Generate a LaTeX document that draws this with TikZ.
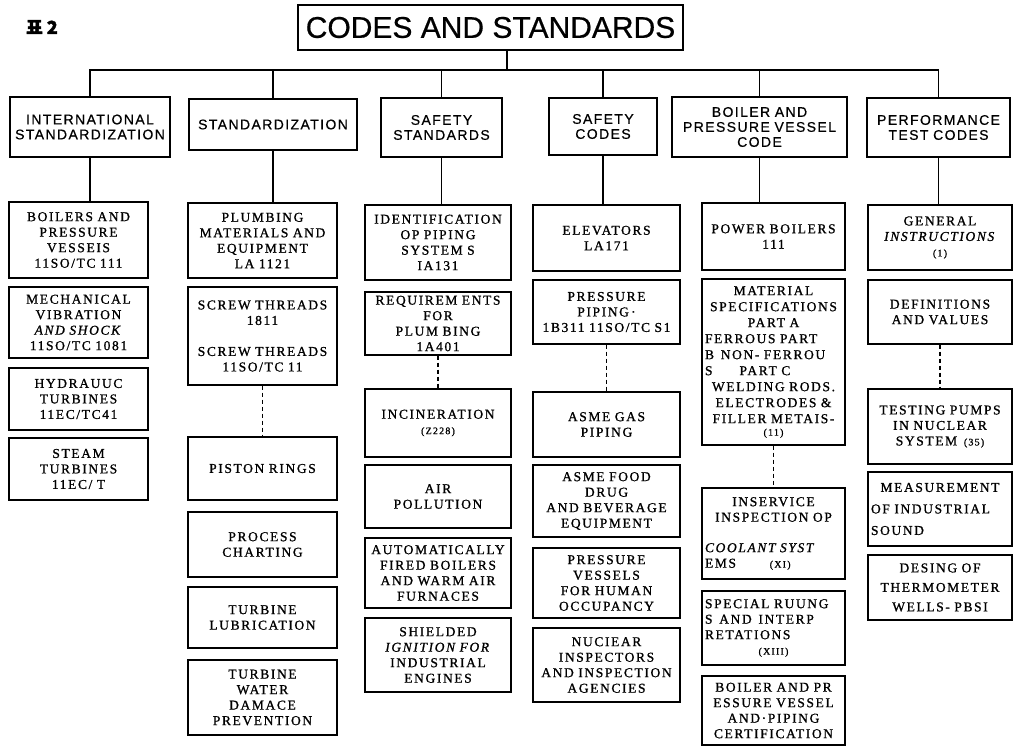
\documentclass[tikz,border=0pt]{standalone}
\usepackage{fontspec}
\newfontfamily\itemfont{Liberation Serif}[LetterSpace=12,WordSpace=1.5,FakeBold=1]
\newfontfamily\headfont{Liberation Sans}[LetterSpace=10,FakeBold=0.6]
\newfontfamily\titlefont{Liberation Sans}[FakeBold=0.6]
\newfontfamily\kofont{Noto Sans CJK KR}[FakeBold=2]
\newcommand{\sm}[1]{{\fontsize{10}{11}\selectfont #1}}
\newcommand{\lft}[1]{#1\hfill\null}
% box from (x1,y1) to (x2,y2), in pixels of the sheet
\newcommand{\cbox}[7][itembox]{%
  \pgfmathsetmacro{\boxw}{#5-#3}\pgfmathsetmacro{\boxh}{#6-#4}%
  \pgfmathsetmacro{\boxtw}{#5-#3-6}%
  \node[#1,minimum width=\boxw pt,minimum height=\boxh pt,text width=\boxtw pt]
    (#2) at ({(#3+#5)/2},{(#4+#6)/2}) {#7};}
\tikzset{
  itembox/.style={draw,line width=1.3pt,inner sep=3pt,align=center,
    font=\itemfont\fontsize{13.5}{15.5}\selectfont},
  headbox/.style={draw,line width=1.3pt,inner sep=3pt,align=center,
    font=\headfont\fontsize{14}{15}\selectfont},
  link/.style={line width=1.1pt},
  dlink/.style={line width=1.1pt,dash pattern=on 4pt off 3pt}
}
\begin{document}
\begin{tikzpicture}[x=1pt,y=-1pt]
\useasboundingbox (0,0) rectangle (1016,749);

\node[font=\kofont\bfseries\fontsize{18}{18}\selectfont] (tabno) at (42,27) {표 2};
\node[draw,line width=1.3pt,minimum width=385pt,minimum height=45pt,inner sep=0pt,
  font=\titlefont\fontsize{30}{32}\selectfont] (title) at (490.5,27.5) {CODES AND STANDARDS};

% heads
\cbox[headbox]{h1}{10}{97}{170}{157}{INTERNATIONAL\\STANDARDIZATION}
\cbox[headbox]{h2}{189}{99}{357}{150}{STANDARDIZATION}
\cbox[headbox]{h3}{381}{98}{502}{157}{SAFETY\\STANDARDS}
\cbox[headbox]{h4}{549}{98}{657}{155}{SAFETY\\CODES}
\cbox[headbox]{h5}{672}{97}{847}{157}{BOILER AND\\PRESSURE VESSEL\\CODE}
\cbox[headbox]{h6}{867}{98}{1010}{157}{PERFORMANCE\\TEST CODES}

% international standardization
\cbox{c11}{9}{202}{148}{278}{BOILERS AND\\PRESSURE\\VESSEIS\\11SO/TC 111}
\cbox{c12}{9}{287}{148}{358}{MECHANICAL\\VIBRATION\\\textit{AND SHOCK}\\11SO/TC 1081}
\cbox{c13}{9}{368}{148}{430}{HYDRAUUC\\TURBINES\\11EC/TC41}
\cbox{c14}{9}{438}{148}{500}{STEAM\\TURBINES\\11EC/ T}

% standardization
\cbox{c21}{188}{203}{337}{278}{PLUMBING\\MATERIALS AND\\EQUIPMENT\\LA 1121}
\cbox{c22}{188}{287}{337}{385}{SCREW THREADS\\1811\\[15.5pt]SCREW THREADS\\11SO/TC 11}
\cbox{c23}{188}{437}{337}{500}{PISTON RINGS}
\cbox{c24}{188}{512}{337}{577}{PROCESS\\CHARTING}
\cbox{c25}{188}{587}{337}{648}{TURBINE\\LUBRICATION}
\cbox{c26}{188}{660}{337}{735}{TURBINE\\WATER\\DAMACE\\PREVENTION}

% safety standards
\cbox{c31}{365}{205}{511}{280}{IDENTIFICATION\\OP PIPING\\SYSTEM S\\IA131}
\cbox{c32}{365}{292}{511}{355}{REQUIREM ENTS\\FOR\\PLUM BING\\1A401}
\cbox{c33}{365}{389}{511}{457}{INCINERATION\\\sm{(Z228)}}
\cbox{c34}{365}{465}{511}{528}{AIR\\POLLUTION}
\cbox{c35}{365}{538}{511}{608}{AUTOMATICALLY\\FIRED BOILERS\\AND WARM AIR\\FURNACES}
\cbox{c36}{365}{618}{511}{692}{SHIELDED\\\textit{IGNITION FOR}\\INDUSTRIAL\\ENGINES}

% safety codes
\cbox{c41}{533}{205}{680}{271}{ELEVATORS\\LA171}
\cbox{c42}{533}{280}{680}{344}{PRESSURE\\PIPING\,·\\1B311 11SO/TC S1}
\cbox{c43}{533}{392}{680}{457}{ASME GAS\\PIPING}
\cbox{c44}{533}{465}{680}{537}{ASME FOOD\\DRUG\\AND BEVERAGE\\EQUIPMENT}
\cbox{c45}{533}{548}{680}{618}{PRESSURE\\VESSELS\\FOR HUMAN\\OCCUPANCY}
\cbox{c46}{533}{628}{680}{702}{NUCIEAR\\INSPECTORS\\AND INSPECTION\\AGENCIES}

% boiler and pressure vessel code
\cbox{c51}{702}{203}{845}{270}{POWER BOILERS\\111}
\cbox{c52}{702}{279}{845}{445}{MATERIAL\\[0.5pt]SPECIFICATIONS\\[0.5pt]PART A\\[0.5pt]\lft{FERROUS PART}\\[0.5pt]\lft{B\enspace NON- FERROU}\\[0.5pt]\lft{S\hspace{2em}PART C}\\[0.5pt]WELDING RODS.\\[0.5pt]ELECTRODES \&\\[0.5pt]FILLER METAIS-\\[-3pt]\sm{(11)}}
\cbox{c53}{702}{488}{845}{579}{INSERVICE\\INSPECTION OP\\[15pt]\lft{\textit{COOLANT SYST}}\\\lft{EMS\hspace{2.5em}\sm{(XI)}}}
\cbox{c54}{702}{591}{845}{665}{\lft{SPECIAL RUUNG}\\\lft{S\enspace AND\enspace INTERP}\\\lft{RETATIONS}\\\sm{(XIII)}}
\cbox{c55}{702}{676}{845}{745}{BOILER AND PR\\ESSURE VESSEL\\AND·PIPING\\CERTIFICATION}

% performance test codes
\cbox{c61}{868}{205}{1012}{270}{GENERAL\\\textit{INSTRUCTIONS}\\\sm{(1)}}
\cbox{c62}{868}{280}{1012}{344}{DEFINITIONS\\AND VALUES\\[10pt]}
\cbox{c63}{868}{389}{1012}{464}{TESTING PUMPS\\IN NUCLEAR\\SYSTEM\enspace\sm{(35)}}
\cbox{c64}{868}{472}{1012}{546}{MEASUREMENT\\[6pt]\lft{OF INDUSTRIAL}\\[6pt]\lft{SOUND}}
\cbox{c65}{868}{555}{1012}{620}{DESING OF\\[4pt]THERMOMETER\\[4pt]WELLS- PBSI}

% trunk and drops
\coordinate (bus) at (507,70);
\draw[link] (title.south -| bus) -- (bus);
\draw[link] (h1.north) |- (bus) -| (h6.north);
\foreach \h in {h2,h3,h4,h5}
  \draw[link] (\h.north) -- (\h.north |- bus);
\foreach \h/\c in {h1/c11,h2/c21,h3/c31,h4/c41,h5/c51,h6/c61}
  \draw[link] (\h.south) -- (\h.south |- \c.north);
\foreach \a/\b in {c22/c23,c32/c33,c42/c43,c52/c53,c62/c63}
  \draw[dlink] (\a.south) -- (\a.south |- \b.north);
\end{tikzpicture}
\end{document}
